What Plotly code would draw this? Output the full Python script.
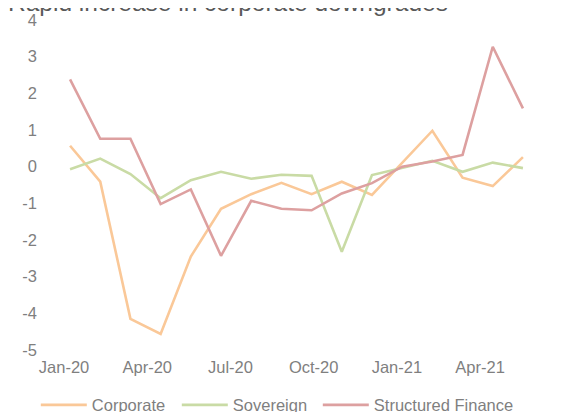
import plotly.graph_objects as go

months = ["Jan-20", "Feb-20", "Mar-20", "Apr-20", "May-20", "Jun-20", "Jul-20", "Aug-20",
          "Sep-20", "Oct-20", "Nov-20", "Dec-20", "Jan-21", "Feb-21", "Mar-21", "Apr-21"]
corporate = [0.57, -0.41, -4.15, -4.56, -2.45, -1.15, -0.75, -0.44,
             -0.75, -0.41, -0.77, 0.10, 0.98, -0.30, -0.53, 0.26]
sovereign = [-0.07, 0.22, -0.20, -0.86, -0.37, -0.14, -0.33, -0.22,
             -0.25, -2.32, -0.23, -0.03, 0.16, -0.14, 0.11, -0.04]
structured = [2.38, 0.76, 0.76, -1.02, -0.62, -2.43, -0.93, -1.15,
              -1.19, -0.73, -0.45, 0.00, 0.14, 0.32, 3.27, 1.59]
tick_labels = ["Jan-20", "Apr-20", "Jul-20", "Oct-20", "Jan-21", "Apr-21"]
y_ticks = [4, 3, 2, 1, 0, -1, -2, -3, -4, -5]

xs = list(range(len(months)))
# label slots are spread evenly along the axis as in the source chart
tick_start, tick_step = -0.2, 2.756
tick_pos = [tick_start + k * tick_step for k in range(len(tick_labels))]

fig = go.Figure()
series = [("Corporate", corporate, "#FAC898", 80),
          ("Sovereign", sovereign, "#C9DBA5", 80),
          ("Structured Finance", structured, "#DDA0A0", 150)]
for name, vals, col, lw in series:
    fig.add_trace(go.Scatter(x=xs, y=vals, mode="lines", name=name, legendwidth=lw,
                             line=dict(color=col, width=2.6), cliponaxis=False))

font = "Liberation Sans, Arial, sans-serif"
fig.update_layout(
    width=561, height=404,
    margin=dict(l=53, r=37, t=12, b=62, autoexpand=False),
    paper_bgcolor="white", plot_bgcolor="white",
    font=dict(family=font, size=16.5, color="#7F7F7F"),
    showlegend=True,
    legend=dict(orientation="h", x=-0.0535, xanchor="left", y=-0.167, yanchor="middle",
                font=dict(size=16.5, color="#7F7F7F"), itemwidth=46,
                traceorder="normal", tracegroupgap=0),
    xaxis=dict(range=[-0.3, 15.3], tickmode="array", tickvals=tick_pos, ticktext=tick_labels,
               showgrid=False, zeroline=False, showline=False, ticks="",
               ticklabelstandoff=5,
               tickfont=dict(size=16.5, color="#7F7F7F")),
    yaxis=dict(range=[-5, 4], tickmode="array", tickvals=y_ticks,
               ticktext=[str(v) for v in y_ticks],
               showgrid=False, zeroline=False, showline=False, ticks="",
               ticklabelstandoff=23,
               tickfont=dict(size=16.5, color="#7F7F7F")),
)
fig.add_annotation(text="Rapid increase in corporate downgrades", xref="paper", yref="paper",
                   x=-0.1166, xanchor="left", y=1.052, yanchor="middle", showarrow=False,
                   font=dict(size=24.5, color="#595959", family=font))
fig.write_html("out.html")
